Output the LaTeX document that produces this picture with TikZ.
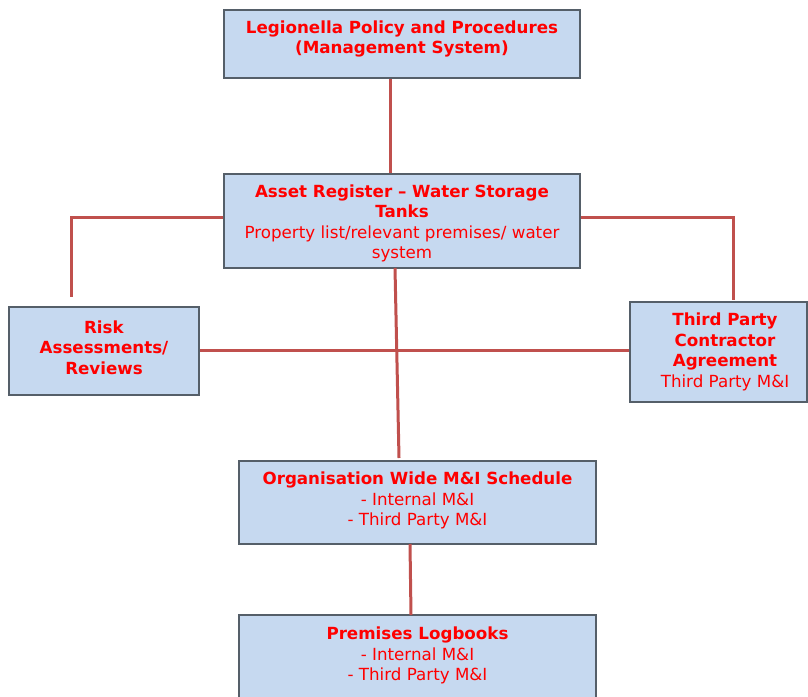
\documentclass[tikz,border=0pt]{standalone}
\usepackage{fontspec}
\setmainfont{DejaVu Sans}
\definecolor{boxfill}{RGB}{198,217,240}
\definecolor{boxedge}{RGB}{85,95,105}
\definecolor{wire}{RGB}{192,80,77}
\definecolor{txt}{RGB}{255,0,0}
\begin{document}
\begin{tikzpicture}[x=1pt,y=-1pt,
  box/.style={draw=boxedge,fill=boxfill,line width=1.2pt,inner sep=0pt},
  lbl/.style={text=txt,align=center,inner sep=0pt,font=\fontsize{16.7}{20.5}\selectfont},
  wireline/.style={draw=wire,line width=3pt}]
\useasboundingbox (0,0) rectangle (808,696);
\begin{scope}
\clip (0,0) rectangle (808,696);
% boxes
\node[box,minimum width=356pt,minimum height=68pt] (top) at (402,44) {};
\node[box,minimum width=356pt,minimum height=94pt] (asset) at (402,221) {};
\node[box,minimum width=190pt,minimum height=88pt] (risk) at (104,351) {};
\node[box,minimum width=177pt,minimum height=100pt] (third) at (718.5,352) {};
\node[box,minimum width=357pt,minimum height=83pt] (org) at (417.5,502.5) {};
\node[box,minimum width=357pt,minimum height=100pt] (prem) at (417.5,665) {};
% connectors
\coordinate (lc) at (71,297);
\coordinate (rc) at (733,300);
\draw[wireline] (top.south -| 390,0) -- (asset.north -| 390,0);
\draw[wireline] (asset.west |- 0,217) -| (lc);
\draw[wireline] (asset.east |- 0,217) -| (rc);
\draw[wireline] (risk.east |- 0,350) -- (third.west |- 0,350);
\coordinate (ab) at (395,268);
\coordinate (ot) at (399,458);
\draw[wireline] (ab) -- (ot);
\draw[wireline] (410,544) -- (411,615);
\end{scope}
% texts
\node[lbl] (ttop) at (402,39) {\textbf{Legionella Policy and Procedures}\\\textbf{(Management System)}};
\node[lbl] (tasset) at (402,223.5) {\textbf{Asset Register – Water Storage}\\\textbf{Tanks}\\Property list/relevant premises/ water\\system};
\node[lbl] (trisk) at (104,347.5) {\textbf{Risk}\\\textbf{Assessments/}\\\textbf{Reviews}};
\node[lbl] (tthird) at (725,352) {\textbf{Third Party}\\\textbf{Contractor}\\\textbf{Agreement}\\Third Party M\&I};
\node[lbl] (torg) at (417.5,500.5) {\textbf{Organisation Wide M\&I Schedule}\\- Internal M\&I\\- Third Party M\&I};
\node[lbl] (tprem) at (417.5,655.5) {\textbf{Premises Logbooks}\\- Internal M\&I\\- Third Party M\&I};
\end{tikzpicture}
\end{document}
